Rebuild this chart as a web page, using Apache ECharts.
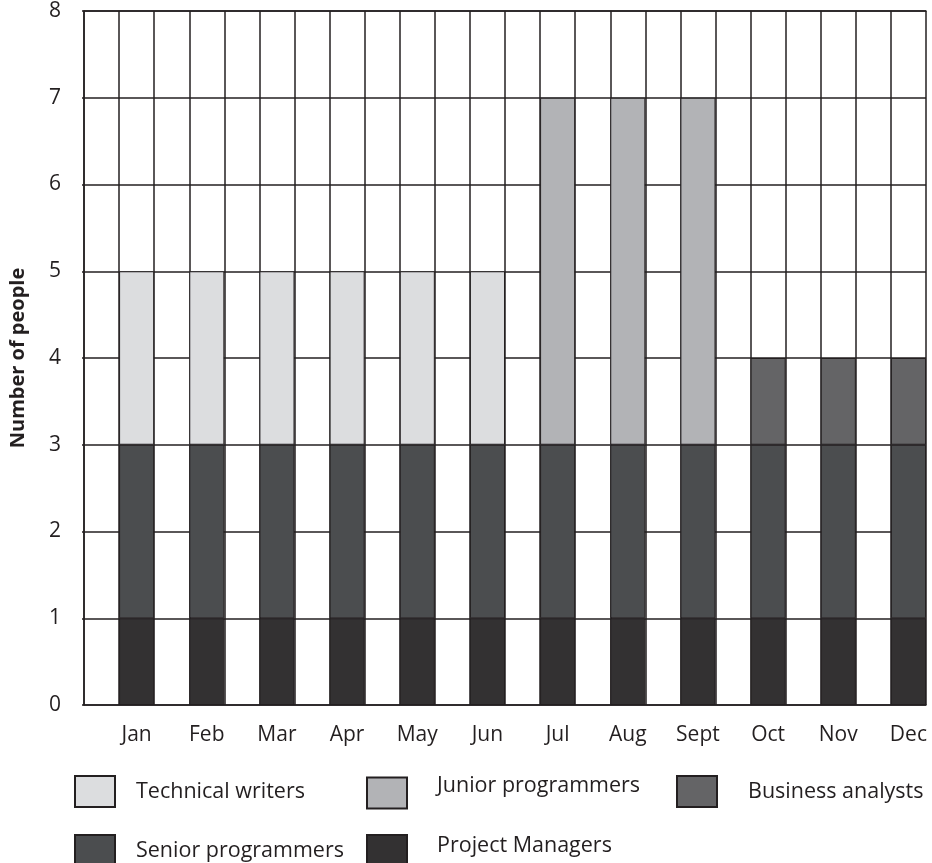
<!DOCTYPE html>
<html>
<head>
<meta charset="utf-8">
<script src="https://cdn.jsdelivr.net/npm/echarts@6/dist/echarts.min.js"></script>
<style>
  html, body { margin: 0; padding: 0; background: #fff; }
  #chart { width: 932px; height: 863px; }
</style>
</head>
<body>
<div id="chart"></div>
<script>
// Monthly team composition (number of people per role)
const months = ['Jan', 'Feb', 'Mar', 'Apr', 'May', 'Jun', 'Jul', 'Aug', 'Sept', 'Oct', 'Nov', 'Dec'];
const projectManagers   = [1, 1, 1, 1, 1, 1, 1, 1, 1, 1, 1, 1];
const seniorProgrammers = [2, 2, 2, 2, 2, 2, 2, 2, 2, 2, 2, 2];
const technicalWriters  = [2, 2, 2, 2, 2, 2, null, null, null, null, null, null];
const juniorProgrammers = [null, null, null, null, null, null, 4, 4, 4, null, null, null];
const businessAnalysts  = [null, null, null, null, null, null, null, null, null, 1, 1, 1];
const yTicks = { min: 0, max: 8, step: 1 };

const INK = '#231f20';
const FONT = '"Open Sans", "Noto Sans", sans-serif';

const chart = echarts.init(document.getElementById('chart'), null, { renderer: 'canvas' });

function roleSeries(name, data, color) {
  return {
    name: name,
    type: 'bar',
    stack: 'staff',
    xAxisIndex: 0,
    data: data,
    itemStyle: { color: color, borderColor: INK, borderWidth: 1 },
    emphasis: { disabled: true }
  };
}

// one legend entry; raise > 0 lifts the text above the swatch centre
function legendAt(name, left, top, padLeft, raise) {
  const legend = {
    data: [name],
    left: left,
    top: top,
    padding: 0,
    itemWidth: 40,
    itemHeight: 31,
    icon: 'rect',
    selectedMode: false,
    textStyle: {
      fontFamily: FONT,
      fontSize: 21.5,
      color: INK,
      padding: [0, 0, 0, padLeft]
    }
  };
  if (raise > 0) {
    legend.formatter = (n) => n + '\n ';
    legend.textStyle.lineHeight = raise * 2;
  }
  return legend;
}

const option = {
  animation: false,
  backgroundColor: '#fff',
  grid: { left: 83, right: 6, top: 11, bottom: 158, containLabel: false },
  xAxis: [
    {
      // month axis; bars sit in the right half of each month slot
      type: 'category',
      data: months,
      boundaryGap: true,
      axisLine: { show: true, lineStyle: { color: INK, width: 1.5 } },
      axisTick: { show: false },
      splitLine: { show: false },
      axisLabel: {
        fontFamily: FONT,
        fontSize: 21,
        color: INK,
        margin: 20,
        padding: [0, 0, 0, 35]
      }
    },
    {
      // half-slot grid lines
      type: 'value',
      position: 'top',
      min: 0,
      max: 24,
      interval: 1,
      axisLine: { show: true, lineStyle: { color: INK, width: 1.5 } },
      axisTick: { show: false },
      axisLabel: { show: false },
      splitLine: { show: true, lineStyle: { color: INK, width: 1.5 } }
    }
  ],
  yAxis: {
    type: 'value',
    min: yTicks.min,
    max: yTicks.max,
    interval: yTicks.step,
    name: 'Number of people',
    nameLocation: 'middle',
    nameRotate: 90,
    nameGap: 56,
    nameTextStyle: { fontFamily: FONT, fontSize: 20, fontWeight: 'bold', color: INK },
    axisLine: { show: true, lineStyle: { color: INK, width: 1.5 } },
    axisTick: { show: true, length: 2, lineStyle: { color: INK, width: 1.5 } },
    axisLabel: { fontFamily: FONT, fontSize: 21, color: INK, margin: 23 },
    splitLine: { show: true, lineStyle: { color: INK, width: 1.5 } }
  },
  legend: [
    legendAt('Technical writers', 74, 775, 16, 0),
    legendAt('Junior programmers', 366, 775, 25, 7),
    legendAt('Business analysts', 676, 775, 26, 0),
    legendAt('Senior programmers', 74, 834, 16, 0),
    legendAt('Project Managers', 366, 834, 25, 5)
  ],
  series: [
    {
      // empty left half of each month slot
      name: 'spacer',
      type: 'bar',
      stack: 'spacer',
      xAxisIndex: 0,
      data: months.map(() => null),
      barGap: '0%',
      barCategoryGap: '0%'
    },
    roleSeries('Project Managers', projectManagers, '#333132'),
    roleSeries('Senior programmers', seniorProgrammers, '#4b4d4f'),
    roleSeries('Technical writers', technicalWriters, '#dcdddf'),
    roleSeries('Junior programmers', juniorProgrammers, '#b2b3b6'),
    Object.assign(roleSeries('Business analysts', businessAnalysts, '#646466'), {
      barGap: '0%',
      barCategoryGap: '0%'
    })
  ]
};

chart.setOption(option);
</script>
</body>
</html>
